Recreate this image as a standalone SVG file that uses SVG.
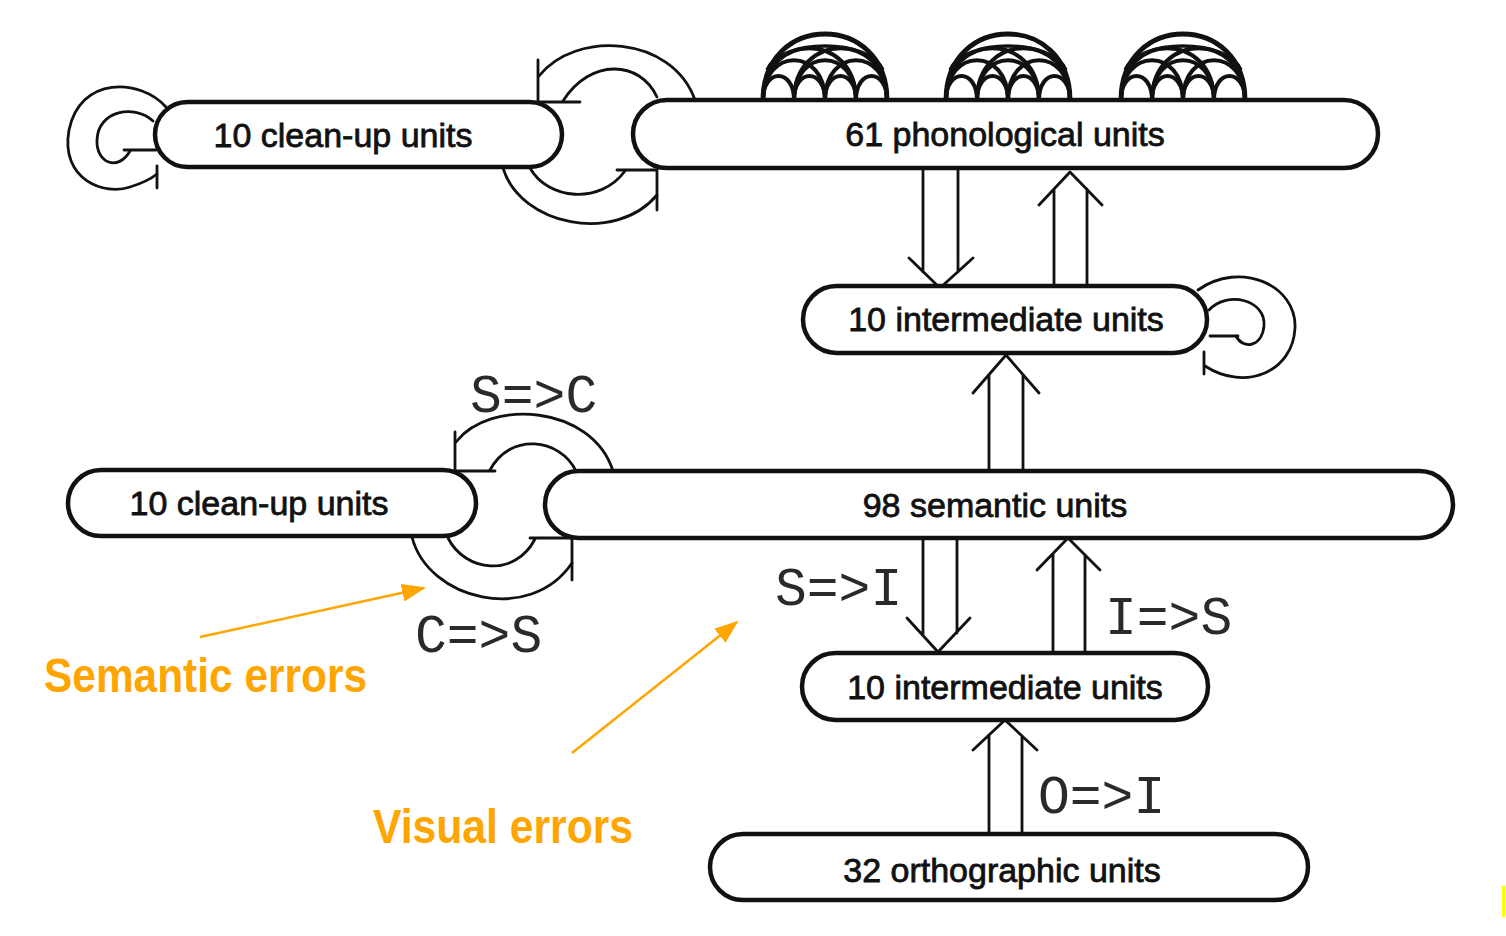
<svg xmlns="http://www.w3.org/2000/svg" width="1506" height="936" viewBox="0 0 1506 936">
<style>
.box{fill:#fff;stroke:#111;stroke-width:4.5}
.lbl{font-family:"Liberation Sans",Arial,sans-serif;font-size:34px;fill:#111;stroke:#111;stroke-width:0.8;text-anchor:middle}
.mono{font-family:"Liberation Mono","Courier New",monospace;font-size:53px;fill:#2a2a2a}
.c{fill:none;stroke:#111;stroke-width:2.8;stroke-linecap:round;stroke-linejoin:round}
.d{fill:none;stroke:#111;stroke-width:4}
.org{font-family:"Liberation Sans",Arial,sans-serif;font-weight:bold;font-size:48px;fill:#FFA500}
.oa{fill:none;stroke:#FFA500;stroke-width:2.5}
</style>
<defs>
<g id="dome">
<path class="d" d="M-62,0 C-62,-32 -31,-32 -31,0 M-31,0 C-31,-32 0,-32 0,0 M0,0 C0,-32 31,-32 31,0 M31,0 C31,-32 62,-32 62,0"/>
<path class="d" d="M-62,0 C-62,-53 0,-53 0,0 M-31,0 C-31,-53 31,-53 31,0 M0,0 C0,-53 62,-53 62,0"/>
<path class="d" d="M-62,0 C-62,-69 31,-69 31,0 M-31,0 C-31,-69 62,-69 62,0"/>
<path class="d" style="stroke-width:3.4" d="M-58,-30 C-45,-62 45,-62 58,-30"/>
<path class="d" style="stroke-width:4.8" d="M-62,0 C-62,-88 62,-88 62,0"/>
</g>
<marker id="oh" viewBox="0 0 24 18" refX="22" refY="9" markerWidth="24" markerHeight="18" markerUnits="userSpaceOnUse" orient="auto">
<path d="M0,0 L24,9 L0,18 Z" fill="#FFA500"/>
</marker>
</defs>
<rect width="1506" height="936" fill="#fff"/>

<g id="connectors">
<!-- phonological self connections -->
<use href="#dome" transform="translate(825,100)"/>
<use href="#dome" transform="translate(1008,100)"/>
<use href="#dome" transform="translate(1183,100)"/>
<!-- top-left clean-up self loop -->
<path class="c" d="M166,107 C140,78 80,76 69,130 C60,180 105,196 130,187 C143,183 152,178 157,174"/>
<path class="c" d="M157,166 V188"/>
<path class="c" d="M153,121 C135,104 98,110 97,140 C96,163 118,172 130,151"/>
<path class="c" d="M124,150 H156"/>
<!-- phonological -> top clean-up -->
<path class="c" d="M695,100 C672,35 575,30 539,76"/>
<path class="c" d="M657,97 C640,60 590,58 563,101"/>
<path class="c" d="M538,60 V102 H580"/>
<!-- top clean-up -> phonological -->
<path class="c" d="M503,168 C520,225 615,245 657,195"/>
<path class="c" d="M530,168 C548,200 600,205 625,171"/>
<path class="c" d="M617,170 H657 V210"/>
<!-- phonological -> intermediate -->
<path class="c" d="M923,168 V272 M958,168 V272 M909,258 L940,288 L973,258"/>
<!-- intermediate -> phonological -->
<path class="c" d="M1054,286 V189 M1087,286 V189 M1039,205 L1070,172 L1102,205"/>
<!-- intermediate self loop -->
<path class="c" d="M1198,290 C1240,260 1297,285 1295,328 C1293,372 1245,392 1205,366"/>
<path class="c" d="M1204,352 V374"/>
<path class="c" d="M1209,310 C1228,290 1266,300 1264,326 C1262,347 1243,350 1236,336"/>
<path class="c" d="M1210,336 H1238"/>
<!-- semantic -> intermediate (upper) -->
<path class="c" d="M989,471 V375 M1023,471 V375 M973,393 L1006,355 L1039,393"/>
<!-- S=>C -->
<path class="c" d="M613,471 C592,405 490,398 456,442"/>
<path class="c" d="M576,471 C560,438 510,432 490,470"/>
<path class="c" d="M455,432 V471 H495"/>
<!-- C=>S -->
<path class="c" d="M412,537 C428,600 530,625 572,563"/>
<path class="c" d="M448,538 C465,572 515,578 535,539"/>
<path class="c" d="M530,538 H572 V580"/>
<!-- S=>I -->
<path class="c" d="M923,538 V635 M957,538 V633 M907,618 L938,652 L970,618"/>
<!-- I=>S -->
<path class="c" d="M1053,653 V554 M1085,653 V555 M1037,570 L1068,538 L1100,570"/>
<!-- O=>I -->
<path class="c" d="M989,834 V735 M1022,834 V736 M973,750 L1005,720 L1037,750"/>
</g>

<g id="node-cleanup-top">
<rect class="box" x="155" y="102" width="407" height="65" rx="32.5"/>
<text class="lbl" x="343" y="147">10 clean-up units</text>
</g>
<g id="node-phonological">
<rect class="box" x="633" y="100" width="745" height="68" rx="34"/>
<text class="lbl" x="1005" y="146">61 phonological units</text>
</g>
<g id="node-intermediate-top">
<rect class="box" x="803" y="286" width="404" height="67" rx="33.5"/>
<text class="lbl" x="1006" y="331">10 intermediate units</text>
</g>
<g id="node-cleanup-bottom">
<rect class="box" x="68" y="470" width="408" height="66" rx="33"/>
<text class="lbl" x="259" y="515">10 clean-up units</text>
</g>
<g id="node-semantic">
<rect class="box" x="545" y="471" width="908" height="67" rx="33.5"/>
<text class="lbl" x="995" y="517">98 semantic units</text>
</g>
<g id="node-intermediate-bottom">
<rect class="box" x="802" y="653" width="406" height="67" rx="33.5"/>
<text class="lbl" x="1005" y="699">10 intermediate units</text>
</g>
<g id="node-orthographic">
<rect class="box" x="710" y="834" width="598" height="66" rx="33"/>
<text class="lbl" x="1002" y="882">32 orthographic units</text>
</g>

<g id="labels">
<text class="mono" x="470" y="412">S=&gt;C</text>
<text class="mono" x="415" y="652">C=&gt;S</text>
<text class="mono" x="775" y="605">S=&gt;I</text>
<text class="mono" x="1105" y="634">I=&gt;S</text>
<text class="mono" x="1038" y="813">O=&gt;I</text>
</g>

<g id="annotations">
<line class="oa" x1="200" y1="637" x2="424" y2="588" marker-end="url(#oh)"/>
<line class="oa" x1="572" y1="753" x2="737" y2="622" marker-end="url(#oh)"/>
<text class="org" x="44" y="692" textLength="323" lengthAdjust="spacingAndGlyphs">Semantic errors</text>
<text class="org" x="373" y="843" textLength="260" lengthAdjust="spacingAndGlyphs">Visual errors</text>
</g>
<rect x="1502" y="886" width="3" height="31" fill="#FFFF00"/>
</svg>
